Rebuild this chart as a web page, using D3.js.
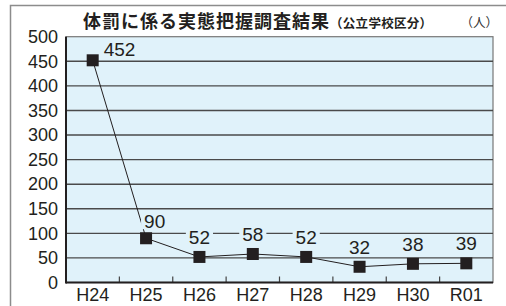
<!DOCTYPE html>
<html>
<head>
<meta charset="utf-8">
<script src="https://cdn.jsdelivr.net/npm/d3@7"></script>
<style>
  body { margin: 0; background: #fff; }
  svg { display: block; }
</style>
</head>
<body>
<div class="chart"></div>
<script>
// data
const years = ["H24", "H25", "H26", "H27", "H28", "H29", "H30", "R01"];
const counts = [452, 90, 52, 58, 52, 32, 38, 39];
const yTicks = [0, 50, 100, 150, 200, 250, 300, 350, 400, 450, 500];

const width = 506;
const height = 306;
const margin = {top: 36.7, right: 13, bottom: 23.5, left: 66};
const numFont = "'Liberation Sans', Arial, Helvetica, sans-serif";
const jpFont = "'Noto Sans CJK JP', 'Noto Sans', sans-serif";
const plotBg = "#e0f2fa";

const svg = d3.select(".chart")
  .append("svg")
  .attr("width", width)
  .attr("height", height);

// outer frame, runs off the right and bottom edges
svg.append("rect")
  .attr("x", 10.5).attr("y", 5.5)
  .attr("width", 530).attr("height", 330)
  .attr("fill", "none")
  .attr("stroke", "#8c8c8c")
  .attr("stroke-width", 1.5);

// title
const title = svg.append("text")
  .attr("x", 83)
  .attr("y", 28)
  .attr("font-family", jpFont)
  .attr("fill", "#231f20");
title.append("tspan")
  .attr("font-size", 18)
  .attr("font-weight", "bold")
  .attr("letter-spacing", 1)
  .text("体罰に係る実態把握調査結果");
title.append("tspan")
  .attr("font-size", 12.5)
  .attr("font-weight", "bold")
  .attr("letter-spacing", 0.3)
  .text("（公立学校区分）");

svg.append("text")
  .attr("x", 498)
  .attr("y", 27)
  .attr("text-anchor", "end")
  .attr("font-family", jpFont)
  .attr("font-size", 12.5)
  .attr("fill", "#333")
  .text("（人）");

const x = d3.scaleBand()
  .domain(years)
  .range([margin.left, width - margin.right]);

const y = d3.scaleLinear()
  .domain([0, 500])
  .range([height - margin.bottom, margin.top]);

// plot background
svg.append("rect")
  .attr("x", margin.left)
  .attr("y", margin.top)
  .attr("width", width - margin.left - margin.right)
  .attr("height", y(0) - margin.top)
  .attr("fill", plotBg)
  .attr("stroke", "#777")
  .attr("stroke-width", 1.2);

// grid lines
svg.append("g")
  .selectAll("line")
  .data(yTicks.filter(d => d > 0 && d < 500))
  .join("line")
  .attr("x1", margin.left)
  .attr("x2", width - margin.right)
  .attr("y1", d => y(d))
  .attr("y2", d => y(d))
  .attr("stroke", "#4a4a4a")
  .attr("stroke-width", 1.4);

// y axis labels
svg.append("g")
  .attr("transform", `translate(${margin.left},0)`)
  .call(d3.axisLeft(y).tickValues(yTicks).tickSize(0).tickPadding(8))
  .call(g => g.select(".domain").remove())
  .selectAll("text")
  .attr("font-family", numFont)
  .attr("font-size", 18)
  .attr("fill", "#231f20");

// x axis with ticks at band boundaries
const xAxis = svg.append("g")
  .attr("transform", `translate(0,${y(0)})`)
  .call(d3.axisBottom(x).tickSize(0).tickPadding(6));
xAxis.select(".domain").remove();
xAxis.selectAll("text")
  .attr("font-family", numFont)
  .attr("font-size", 18)
  .attr("fill", "#231f20");

svg.append("g")
  .selectAll("line")
  .data(years.slice(1))
  .join("line")
  .attr("x1", d => x(d))
  .attr("x2", d => x(d))
  .attr("y1", y(0))
  .attr("y2", y(0) - 6)
  .attr("stroke", "#444")
  .attr("stroke-width", 1.2);

// axis lines
svg.append("line")
  .attr("x1", margin.left).attr("x2", width - margin.right)
  .attr("y1", y(0)).attr("y2", y(0))
  .attr("stroke", "#231f20").attr("stroke-width", 2);
svg.append("line")
  .attr("x1", margin.left).attr("x2", margin.left)
  .attr("y1", margin.top).attr("y2", y(0) + 1)
  .attr("stroke", "#231f20").attr("stroke-width", 2);

const cx = d => x(d) + x.bandwidth() / 2;
const points = years.map((yr, i) => ({yr, v: counts[i], i}));

// line
svg.append("path")
  .datum(points)
  .attr("fill", "none")
  .attr("stroke", "#231f20")
  .attr("stroke-width", 1)
  .attr("d", d3.line().x(d => cx(d.yr)).y(d => y(d.v)));

// markers
svg.append("g")
  .selectAll("rect")
  .data(points)
  .join("rect")
  .attr("x", d => cx(d.yr) - 6)
  .attr("y", d => y(d.v) - 6)
  .attr("width", 12)
  .attr("height", 12)
  .attr("fill", "#231f20");

// value labels; the first two sit to the right of the marker
function labelPos(d) {
  if (d.i === 0) return {x: cx(d.yr) + 11, y: y(d.v) - 4, anchor: "start"};
  if (d.i === 1) return {x: cx(d.yr) - 2, y: y(d.v) - 10, anchor: "start"};
  return {x: cx(d.yr), y: y(d.v) - 13, anchor: "middle"};
}

const labels = svg.append("g")
  .selectAll("g")
  .data(points)
  .join("g");

labels.append("text")
  .attr("x", d => labelPos(d).x)
  .attr("y", d => labelPos(d).y)
  .attr("text-anchor", d => labelPos(d).anchor)
  .attr("font-family", numFont)
  .attr("font-size", 19)
  .attr("fill", "#231f20")
  .text(d => d.v);

// knock out grid lines behind the labels
labels.each(function() {
  const g = d3.select(this);
  const b = g.select("text").node().getBBox();
  g.insert("rect", "text")
    .attr("x", b.x - 3)
    .attr("y", b.y + 3)
    .attr("width", b.width + 6)
    .attr("height", b.height - 6)
    .attr("fill", plotBg);
});
</script>
</body>
</html>
